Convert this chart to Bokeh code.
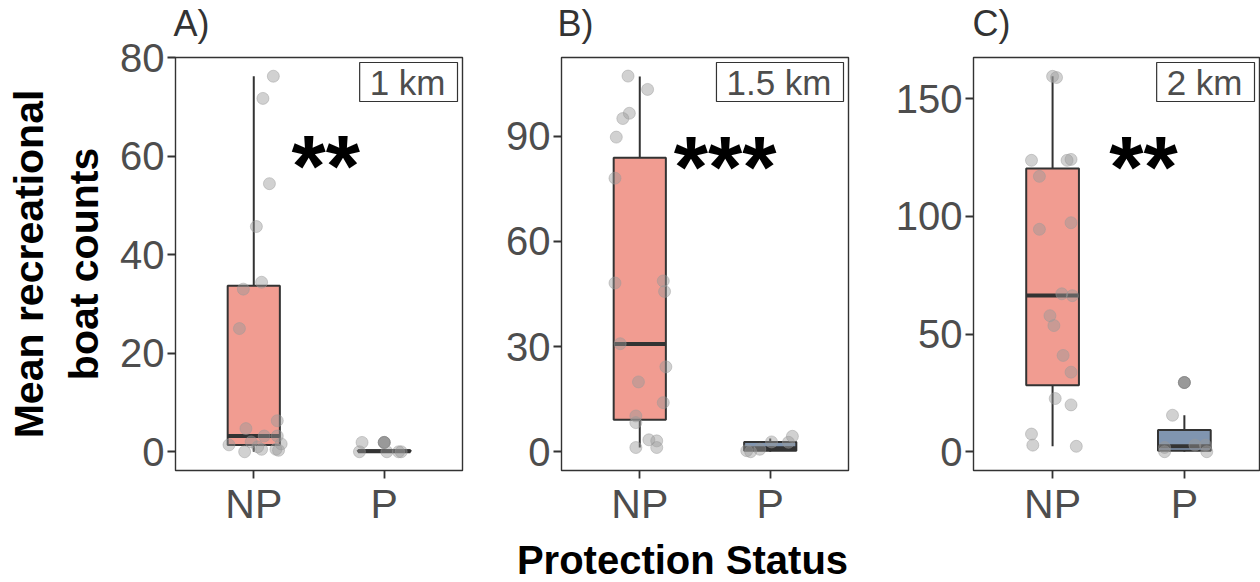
import numpy as np
from bokeh.plotting import figure
from bokeh.models import Range1d, FixedTicker, Label, ColumnDataSource
from bokeh.layouts import row, column
from bokeh.core.properties import value
from bokeh.embed import file_html
from bokeh.resources import INLINE

# ---------------- data ----------------
categories = ["NP", "P"]
panel_tags = ["A)", "B)", "C)"]
buffer_labels = ["1 km", "1.5 km", "2 km"]
x_title = "Protection Status"
y_title = "Mean recreational\nboat counts"
signif_text = ["**", "***", "**"]
signif_x = [1.29, 1.26, 1.43]
signif_y = [60.0, 84.0, 125.2]
y_ticks = [[0, 20, 40, 60, 80], [0, 30, 60, 90], [0, 50, 100, 150]]
y_limits = [(-3.8, 80.0), (-5.35, 112.4), (-7.98, 167.5)]
x_limits = [(0.4, 2.6), (0.4, 2.6), (0.4, 2.57)]

# box statistics per panel, [NP, P]
box_low = [[0.0, 0.0], [1.2, 0.0], [2.3, 0.0]]
box_q1 = [[1.36, 0.0], [9.1, 0.3], [28.2, 0.4]]
box_med = [[3.2, 0.1], [30.7, 1.0], [66.4, 2.3]]
box_q3 = [[33.7, 0.3], [83.8, 2.8], [120.3, 9.2]]
box_high = [[76.2, 0.5], [107.0, 3.8], [159.5, 15.5]]
outliers_p = [[1.9], [], [29.4]]

# points (values and horizontal jitter)
a_np_vals = [76.2, 71.7, 54.4, 45.7, 34.4, 33.0, 25.0, 6.3, 4.7, 3.2, 3.2, 1.4, 1.6, 0.0, 0.5, 0.5, 0.3, 1.0, 2.0]
a_np_jit = [0.15, 0.07, 0.12, 0.02, 0.06, -0.08, -0.11, 0.18, -0.06, 0.08, 0.18, -0.19, 0.21, -0.07, 0.06, 0.17, 0.19, 0.03, -0.02]
a_p_vals = [1.9, 1.9, 0.0, 0.0, 0.0, 0.0]
a_p_jit = [-0.17, 0.0, -0.19, 0.02, 0.11, 0.13]

b_np_vals = [107.1, 103.3, 96.5, 95.0, 89.7, 78.0, 48.1, 48.7, 45.7, 30.8, 24.2, 19.9, 14.0, 10.2, 8.3, 3.4, 3.1, 1.2, 1.2]
b_np_jit = [-0.09, 0.06, -0.08, -0.13, -0.18, -0.19, -0.19, 0.18, 0.19, -0.15, 0.20, -0.01, 0.18, -0.03, -0.03, 0.07, 0.13, 0.13, -0.03]
b_p_vals = [0.3, 0.0, 0.7, 2.8, 2.7, 4.4]
b_p_jit = [-0.18, -0.15, -0.08, 0.01, 0.14, 0.17]

c_np_vals = [159.5, 159.0, 123.8, 123.8, 124.2, 117.0, 94.5, 97.3, 67.1, 66.3, 57.8, 53.6, 40.9, 33.8, 22.6, 19.9, 7.5, 2.8, 2.3]
c_np_jit = [0.0, 0.03, -0.16, 0.11, 0.14, -0.10, -0.10, 0.14, 0.07, 0.15, -0.02, 0.01, 0.08, 0.14, 0.02, 0.14, -0.16, -0.15, 0.18]
c_p_vals = [1.8, 0.0, 2.8, 2.8, 0.0, 15.5, 29.4]
c_p_jit = [-0.15, -0.15, 0.08, 0.16, 0.17, -0.09, 0.0]

point_vals = [[a_np_vals, a_p_vals], [b_np_vals, b_p_vals], [c_np_vals, c_p_vals]]
point_jit = [[a_np_jit, a_p_jit], [b_np_jit, b_p_jit], [c_np_jit, c_p_jit]]

# ---------------- style / layout ----------------
FONT = "Liberation Sans"
fill_colors = ["#F19C91", "#8095B0"]
dark = "#333333"
tick_col = "#4D4D4D"
W = 1260
MAIN_H = 529
BOT_H = 582 - MAIN_H
FRAME_TOP = 57
FRAME_BOTTOM = 471
fig_widths = [470, 388, 402]
border_left = [175, 91, 115]
border_right = [8, 10, 1]
tag_offset = [-2, -4, -1]
tag_lift = 34
xtitle_center = 682
xtitle_y = 30

bottom = figure(width=W, height=BOT_H, x_range=Range1d(0, W), y_range=Range1d(BOT_H, 0),
                x_axis_type=None, y_axis_type=None, min_border=0,
                output_backend="svg", toolbar_location=None)
bottom.grid.visible = False
bottom.outline_line_color = None
bottom.background_fill_color = "white"
bottom.border_fill_color = "white"
bottom.text(x=[xtitle_center], y=[xtitle_y], text=[x_title], text_font=value(FONT),
            text_font_size=value("40px"), text_font_style="bold", text_color="black",
            text_align="center", text_baseline="alphabetic")

figs = []
for i in range(3):
    p = figure(width=fig_widths[i], height=MAIN_H, output_backend="svg", toolbar_location=None,
               x_range=Range1d(*x_limits[i]), y_range=Range1d(*y_limits[i]),
               min_border_left=border_left[i], min_border_right=border_right[i],
               min_border_top=FRAME_TOP, min_border_bottom=MAIN_H - FRAME_BOTTOM)
    p.add_layout(Label(x=tag_offset[i], y=tag_lift, x_units="screen", y_units="screen",
                       text=panel_tags[i], text_align="left", text_baseline="alphabetic",
                       text_font=FONT, text_font_size="36px", text_color=dark), "above")
    p.grid.visible = False
    p.outline_line_color = dark
    p.outline_line_width = 1.4
    p.background_fill_color = "white"
    p.border_fill_color = "white"

    xs = [1, 2]
    src = ColumnDataSource(dict(x=xs, low=box_low[i], q1=box_q1[i], med=box_med[i],
                                q3=box_q3[i], high=box_high[i], fill=fill_colors))
    p.segment(x0="x", y0="q3", x1="x", y1="high", source=src, line_color=dark, line_width=2)
    p.segment(x0="x", y0="low", x1="x", y1="q1", source=src, line_color=dark, line_width=2)
    p.vbar(x="x", width=0.4, top="q3", bottom="q1", source=src, fill_color="fill",
           line_color=dark, line_width=2)
    src_m = ColumnDataSource(dict(x0=[x - 0.2 for x in xs], x1=[x + 0.2 for x in xs], y=box_med[i]))
    p.segment(x0="x0", y0="y", x1="x1", y1="y", source=src_m, line_color=dark, line_width=4)
    if outliers_p[i]:
        p.scatter(x=[2] * len(outliers_p[i]), y=outliers_p[i], size=12,
                  fill_color=dark, fill_alpha=0.5, line_color=dark, line_alpha=0.5)
    for g in range(2):
        px = [xs[g] + j for j in point_jit[i][g]]
        p.scatter(x=px, y=point_vals[i][g], size=12, fill_color="#999999", fill_alpha=0.45,
                  line_color="#999999", line_alpha=0.45)

    ssrc = ColumnDataSource(dict(x=[signif_x[i]], y=[signif_y[i]], t=[signif_text[i]]))
    p.text(x="x", y="y", text="t", source=ssrc, text_font=value(FONT), text_font_style="bold",
           text_font_size=value("88px"), text_color="black", text_align="left",
           text_baseline="alphabetic", y_offset=9)

    p.add_layout(Label(x=x_limits[i][1], y=y_limits[i][1], x_offset=-5, y_offset=-5,
                       text=buffer_labels[i], text_align="right", text_baseline="top",
                       text_font=FONT, text_font_size="35px", text_color=tick_col,
                       border_line_color=dark, border_line_width=1.2,
                       background_fill_color="white",
                       padding=dict(left=10, right=12, top=0, bottom=0)))

    p.xaxis.ticker = FixedTicker(ticks=xs)
    p.xaxis.major_label_overrides = {1: categories[0], 2: categories[1]}
    p.yaxis.ticker = FixedTicker(ticks=y_ticks[i])
    for ax in (p.xaxis[0], p.yaxis[0]):
        ax.axis_line_color = None
        ax.major_tick_line_color = dark
        ax.major_tick_line_width = 1.8
        ax.major_tick_out = 8
        ax.major_tick_in = 0
        ax.minor_tick_line_color = None
        ax.major_label_text_font = FONT
        ax.major_label_text_color = tick_col
    p.xaxis.major_label_text_font_size = "41px"
    p.yaxis.major_label_text_font_size = "40px"
    p.xaxis.major_label_standoff = 2
    p.yaxis.major_label_standoff = 3
    figs.append(p)

figs[0].yaxis.axis_label = y_title
figs[0].yaxis.axis_label_text_font = FONT
figs[0].yaxis.axis_label_text_font_size = "41px"
figs[0].yaxis.axis_label_text_font_style = "bold"
figs[0].yaxis.axis_label_text_color = "black"
figs[0].yaxis.axis_label_standoff = 10

layout = column(row(*figs), bottom)
open("out.html", "w").write(file_html(layout, INLINE))
